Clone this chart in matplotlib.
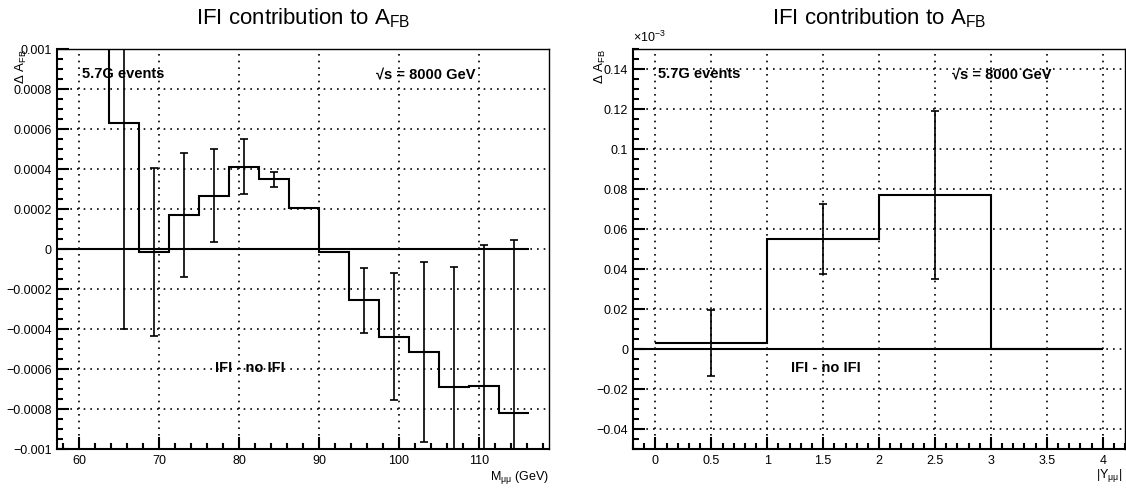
import numpy as np
import matplotlib
matplotlib.use('Agg')
import matplotlib.pyplot as plt
from matplotlib.ticker import MultipleLocator, FuncFormatter

plt.rcParams['font.family'] = ['Liberation Sans', 'DejaVu Sans']
plt.rcParams['mathtext.fontset'] = 'custom'
plt.rcParams['mathtext.rm'] = 'Liberation Sans'
plt.rcParams['mathtext.it'] = 'Liberation Sans:italic'
plt.rcParams['mathtext.bf'] = 'Liberation Sans:bold'

# IFI - no IFI difference of A_FB vs dimuon mass (bin width 3.75 GeV)
m_edges = [60.0, 63.75, 67.5, 71.25, 75.0, 78.75, 82.5, 86.25, 90.0,
           93.75, 97.5, 101.25, 105.0, 108.75, 112.5, 116.25]
m_dafb = [0.0021, 0.00063, -0.000015, 0.000172, 0.000267, 0.000412, 0.00035,
          0.000207, -0.000013, -0.000255, -0.000438, -0.000513, -0.000692,
          -0.000685, -0.000818]
m_err = [0.0009, 0.00103, 0.00042, 0.00031, 0.000233, 0.000138, 0.000037,
         0.0, 0.0, 0.000163, 0.000317, 0.00045, 0.000604, 0.000705, 0.000863]

# same quantity vs |Y_mumu|
y_edges = [0.0, 1.0, 2.0, 3.0, 4.0]
y_dafb = [0.003e-3, 0.055e-3, 0.077e-3, 0.0]
y_err = [0.0163e-3, 0.0176e-3, 0.042e-3, 0.0]


def fmt_tick(v, pos):
    s = f'{round(v, 8):g}'
    if s == '-0':
        s = '0'
    return s.replace('-', '\u2212')


def style_axes(ax):
    ax.tick_params(which='both', direction='in', top=False, right=False,
                   labelsize=9, width=1.5)
    ax.tick_params(which='major', length=8.5)
    ax.tick_params(which='minor', length=4.3)
    ax.tick_params(axis='y', pad=3.6)
    ax.tick_params(axis='x', pad=4)
    for side in ['left', 'bottom']:
        ax.spines[side].set_linewidth(1.5)
    for side in ['top', 'right']:
        ax.spines[side].set_linewidth(1.0)
    ax.grid(True, which='major', color='k', linestyle=(0, (1, 3)), linewidth=1.2)
    ax.xaxis.set_major_formatter(FuncFormatter(fmt_tick))
    ax.yaxis.set_major_formatter(FuncFormatter(fmt_tick))


def draw_hist(ax, edges, vals, errs, xlo):
    edges = np.asarray(edges)
    vals = np.asarray(vals)
    errs = np.asarray(errs)
    centers = 0.5 * (edges[:-1] + edges[1:])
    # zero reference line
    ax.hlines(0, xlo, edges[-1], color='k', linewidth=1.5, zorder=3)
    ax.stairs(vals, edges, baseline=None, color='k', linewidth=1.5, zorder=4)
    ok = errs > 0
    ax.errorbar(centers[ok], vals[ok], yerr=errs[ok], fmt='none', ecolor='k',
                elinewidth=1.2, capsize=3, capthick=1.2, zorder=4)


def add_texts(ax):
    ax.text(0.051, 0.9375, '5.7G events', transform=ax.transAxes,
            fontsize=10.5, fontweight='bold', ha='left', va='center')
    ax.text(0.85, 0.9375, '\u221As = 8000 GeV', transform=ax.transAxes,
            fontsize=10.5, fontweight='bold', ha='right', va='center')
    ax.text(0.321, 0.2025, 'IFI - no IFI', transform=ax.transAxes,
            fontsize=10.5, fontweight='bold', ha='left', va='center')
    ax.text(0.5, 1.0625, r'IFI contribution to A$_{\mathrm{FB}}$',
            transform=ax.transAxes, fontsize=16, ha='center', va='baseline')


fig = plt.figure(figsize=(11.26, 4.93), dpi=100)
ax1 = fig.add_axes([0.0506, 0.0892, 0.437, 0.811])
ax2 = fig.add_axes([0.5622, 0.0892, 0.437, 0.811])

# left: mass
m_xlim = (57.25, 118.75)
ax1.set_xlim(*m_xlim)
ax1.set_ylim(-0.001, 0.001)
ax1.xaxis.set_major_locator(MultipleLocator(10))
ax1.xaxis.set_minor_locator(MultipleLocator(2))
ax1.yaxis.set_major_locator(MultipleLocator(0.0002))
ax1.yaxis.set_minor_locator(MultipleLocator(0.00005))
style_axes(ax1)
draw_hist(ax1, m_edges, m_dafb, m_err, m_xlim[0])
add_texts(ax1)
ax1.text(-0.073, 1.0, r'$\Delta$ A$_{\mathrm{FB}}$', transform=ax1.transAxes,
         rotation=90, fontsize=9.5, ha='center', va='top')
ax1.text(1.0, -0.07, r'M$_{\mathrm{μμ}}$ (GeV)', transform=ax1.transAxes,
         fontsize=9, ha='right', va='center')

# right: rapidity, in units of 1e-3
scale = 1e-3
y_xlim = (-0.2, 4.2)
ax2.set_xlim(*y_xlim)
ax2.set_ylim(-0.05, 0.15)
ax2.xaxis.set_major_locator(MultipleLocator(0.5))
ax2.xaxis.set_minor_locator(MultipleLocator(0.1))
ax2.yaxis.set_major_locator(MultipleLocator(0.02))
ax2.yaxis.set_minor_locator(MultipleLocator(0.005))
style_axes(ax2)
draw_hist(ax2, y_edges, np.array(y_dafb) / scale, np.array(y_err) / scale, y_xlim[0])
add_texts(ax2)
ax2.text(-0.067, 1.0, r'$\Delta$ A$_{\mathrm{FB}}$', transform=ax2.transAxes,
         rotation=90, fontsize=9.5, ha='center', va='top')
ax2.text(0.0, 1.01, r'$\times$10$^{-3}$', transform=ax2.transAxes,
         fontsize=9, ha='left', va='bottom')
ax2.text(0.995, -0.065, r'|Y$_{\mathrm{μμ}}$|', transform=ax2.transAxes,
         fontsize=9, ha='right', va='center')

fig.savefig('out.png', dpi=100)
